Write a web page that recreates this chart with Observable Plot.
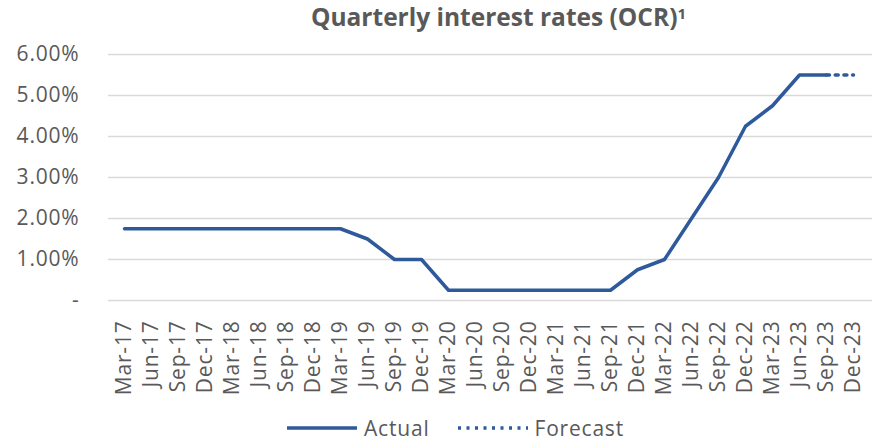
<!DOCTYPE html>
<html><head><meta charset="utf-8">
<script src="https://cdn.jsdelivr.net/npm/d3@7"></script>
<script src="https://cdn.jsdelivr.net/npm/@observablehq/plot@0.6"></script>
<style>
body{margin:0;background:#fff;}
#wrap{width:881px;height:442px;position:relative;overflow:hidden;font-family:"Open Sans",Lato,sans-serif;color:#595959;}
#title{position:absolute;left:0;top:0px;width:881px;box-sizing:border-box;padding-left:116px;text-align:center;font-weight:700;font-size:24.5px;line-height:33px;}
#title sup{font-size:15px;vertical-align:top;position:relative;top:-3px;}
#legend{position:absolute;left:0;top:413px;width:881px;display:flex;justify-content:center;align-items:center;font-size:21px;letter-spacing:0.8px;line-height:30px;padding-left:30px;box-sizing:border-box;}
#legend .item{display:flex;align-items:center;margin:0 14px;}
#legend svg{margin-right:7px;}
#chart{position:absolute;left:0;top:0;width:881px;}
#chart text{letter-spacing:0.8px;}
</style></head>
<body>
<div id="wrap">
<div id="chart"></div>
<div id="title">Quarterly interest rates (OCR)<sup>1</sup></div>
<div id="legend"></div>
</div>
<script>
const quarters = ["Mar-17","Jun-17","Sep-17","Dec-17","Mar-18","Jun-18","Sep-18","Dec-18",
  "Mar-19","Jun-19","Sep-19","Dec-19","Mar-20","Jun-20","Sep-20","Dec-20",
  "Mar-21","Jun-21","Sep-21","Dec-21","Mar-22","Jun-22","Sep-22","Dec-22",
  "Mar-23","Jun-23","Sep-23","Dec-23"];
const actualQuarters = quarters.slice(0, 27);
const actualValues = [1.75,1.75,1.75,1.75,1.75,1.75,1.75,1.75,
  1.75,1.5,1.0,1.0,0.25,0.25,0.25,0.25,
  0.25,0.25,0.25,0.75,1.0,2.0,3.0,4.25,
  4.75,5.5,5.5];
const forecastQuarters = ["Sep-23","Dec-23"];
const forecastValues = [5.5,5.5];
const yTicks = [0,1,2,3,4,5,6];
const seriesNames = ["Actual","Forecast"];

const blue = "#2E5A9C";
const actual = actualQuarters.map((q,i)=>({q, v: actualValues[i]}));
const forecast = forecastQuarters.map((q,i)=>({q, v: forecastValues[i]}));

const chart = Plot.plot({
  width: 881,
  height: 442,
  marginLeft: 108,
  marginRight: 9,
  marginTop: 54,
  marginBottom: 142,
  style: {fontFamily: "'Open Sans', Lato, sans-serif", fontSize: "21px", color: "#595959", background: "transparent"},
  x: {type: "point", domain: quarters, padding: 0, insetLeft: 3, insetRight: 6, label: null, tickRotate: -90, tickSize: 0, tickPadding: 20},
  y: {domain: [0, 6], ticks: yTicks, label: null, tickSize: 0, tickPadding: 29,
      tickFormat: d => d === 0 ? "-" : d.toFixed(2) + "%"},
  marks: [
    Plot.gridY(yTicks, {stroke: "#d9d9d9", strokeOpacity: 1, strokeWidth: 1.5}),
    Plot.line(actual, {x: "q", y: "v", stroke: blue, strokeWidth: 3.5, strokeLinejoin: "round"}),
    Plot.line(forecast, {x: "q", y: "v", stroke: blue, strokeWidth: 3.5, strokeDasharray: "3,5.7"})
  ]
});
document.getElementById("chart").appendChild(chart);

const legend = document.getElementById("legend");
seriesNames.forEach((name, i) => {
  const item = document.createElement("div");
  item.className = "item";
  const dash = i === 0 ? "" : 'stroke-dasharray="3,5.5"';
  item.innerHTML = `<svg width="70" height="10"><line x1="0" x2="70" y1="5" y2="5" stroke="${blue}" stroke-width="3.5" ${dash}/></svg><span>${name}</span>`;
  legend.appendChild(item);
});
</script>
</body></html>
